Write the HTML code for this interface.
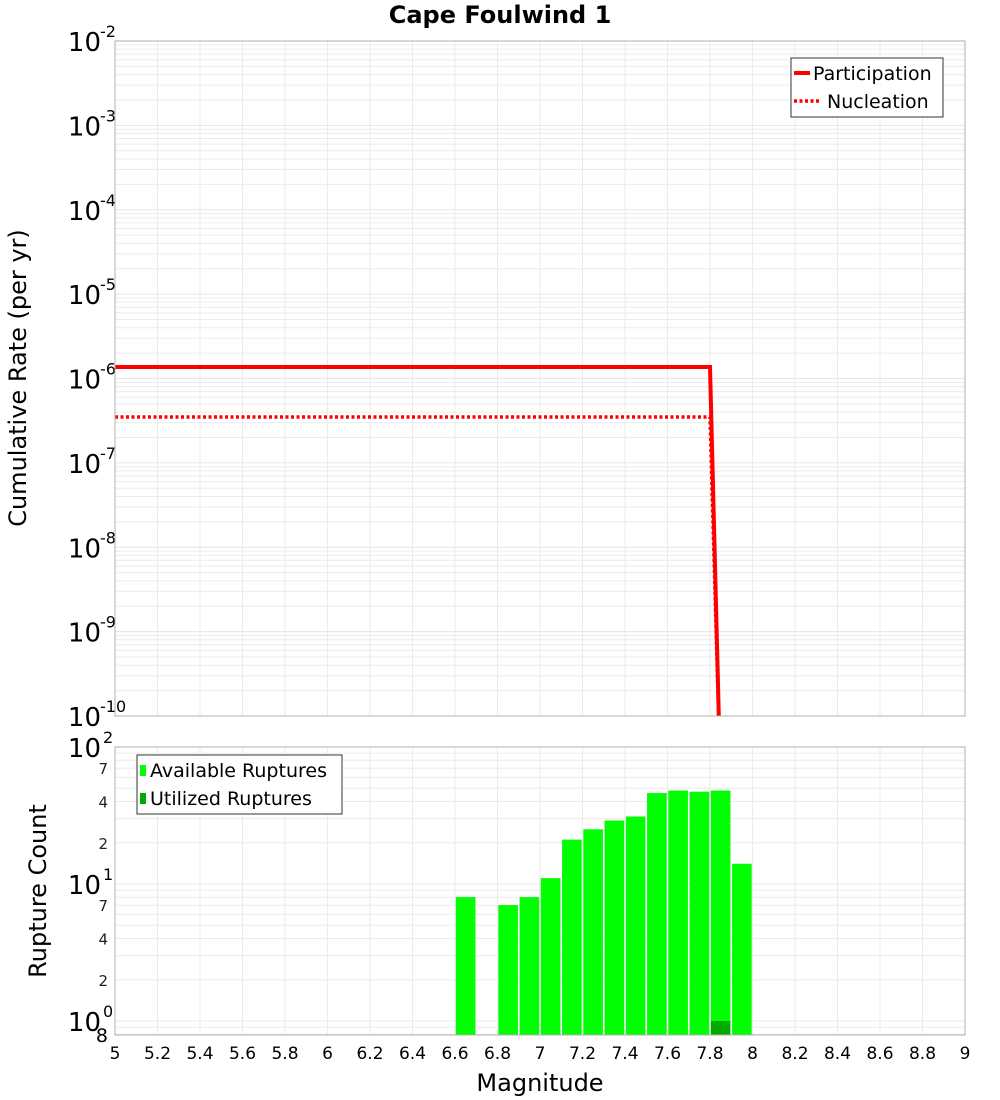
<!DOCTYPE html>
<html><head><meta charset="utf-8"><title>Cape Foulwind 1</title>
<style>
html,body{margin:0;padding:0;background:#fff;}
svg{display:block;font-family:"DejaVu Sans","Liberation Sans",sans-serif;}
</style></head>
<body>
<svg id="chart" width="1000" height="1100" viewBox="0 0 1000 1100" xmlns="http://www.w3.org/2000/svg">
<text x="500" y="23" text-anchor="middle" font-size="24" font-weight="bold">Cape Foulwind 1</text>
<g id="topPlot"></g>
<g id="botPlot"></g>
<text transform="translate(26,378) rotate(-90)" text-anchor="middle" font-size="24">Cumulative Rate (per yr)</text>
<text transform="translate(46,891) rotate(-90)" text-anchor="middle" font-size="24">Rupture Count</text>
<text x="540" y="1091" text-anchor="middle" font-size="24">Magnitude</text>
</svg>
<script>
// ---- data ----
const partMags = [5.0, 7.8, 7.85];
const partRates = [1.37e-6, 1.37e-6, 1.4e-11];
const nuclMags = [5.0, 7.8, 7.85];
const nuclRates = [3.5e-7, 3.5e-7, 1.4e-11];
const barMags = [6.65, 6.85, 6.95, 7.05, 7.15, 7.25, 7.35, 7.45, 7.55, 7.65, 7.75, 7.85, 7.95];
const availCounts = [8, 7, 8, 11, 21, 25, 29, 31, 46, 48, 47, 48, 14];
const utilMags = [7.85];
const utilCounts = [1];
const xTicks = [5,5.2,5.4,5.6,5.8,6,6.2,6.4,6.6,6.8,7,7.2,7.4,7.6,7.8,8,8.2,8.4,8.6,8.8,9];
const topExps = [-2,-3,-4,-5,-6,-7,-8,-9,-10];
const botMinorLabels = [2,4,7,20,40,70];

const NS = "http://www.w3.org/2000/svg";
const X0 = 115, X1 = 965;
const xS = m => X0 + (m - 5) / 4 * (X1 - X0);
const TY0 = 41, TY1 = 716;
const yT = v => TY0 + (-2 - Math.log10(v)) / 8 * (TY1 - TY0);
const BY0 = 747, BY1 = 1035, BD = 137;
const yB = v => BY0 + (2 - Math.log10(v)) * BD;

function mk(parent, tag, attrs, text) {
  const e = document.createElementNS(NS, tag);
  for (const k in attrs) e.setAttribute(k, attrs[k]);
  if (text !== undefined) e.textContent = text;
  parent.appendChild(e);
  return e;
}
const topG = document.getElementById('topPlot');
const botG = document.getElementById('botPlot');

// ---- top plot ----
mk(topG, 'rect', {x: X0, y: TY0, width: X1 - X0, height: TY1 - TY0, fill: '#fff'});
for (let d = -10; d < -2; d++) {
  for (let k = 2; k <= 9; k++) {
    const y = yT(k * Math.pow(10, d));
    mk(topG, 'line', {x1: X0, x2: X1, y1: y, y2: y, stroke: '#ebebeb', 'stroke-width': 1});
  }
}
xTicks.forEach(t => { const x = xS(t); mk(topG, 'line', {x1: x, x2: x, y1: TY0, y2: TY1, stroke: '#ebebeb', 'stroke-width': 1}); });
topExps.forEach(e => {
  const y = yT(Math.pow(10, e));
  mk(topG, 'line', {x1: X0, x2: X1, y1: y, y2: y, stroke: '#e6e6e6', 'stroke-width': 1});
  const g = mk(topG, 'g', {});
  
  
  mk(g, 'text', {x: 101, y: y + 10, 'text-anchor': 'end', 'font-size': 26}, '10');
  mk(g, 'text', {x: 100, y: y - 4, 'font-size': 16}, String(e));
});
const clipT = mk(topG, 'clipPath', {id: 'clipT'});
mk(clipT, 'rect', {x: X0, y: TY0, width: X1 - X0, height: TY1 - TY0});
const partLine = mk(topG, 'polyline', {points: partMags.map((m, i) => xS(m) + ',' + yT(partRates[i])).join(' '), fill: 'none', stroke: '#ff0000', 'stroke-width': 4, 'clip-path': 'url(#clipT)'});


const nuclLine = mk(topG, 'polyline', {points: nuclMags.map((m, i) => xS(m) + ',' + yT(nuclRates[i])).join(' '), fill: 'none', stroke: '#ff0000', 'stroke-width': 3.5, 'stroke-dasharray': '3,2.5', 'clip-path': 'url(#clipT)'});


mk(topG, 'rect', {x: X0, y: TY0, width: X1 - X0, height: TY1 - TY0, fill: 'none', stroke: '#b0b0b0', 'stroke-width': 1});
const lg = mk(topG, 'g', {});


mk(lg, 'rect', {x: 791, y: 58, width: 152, height: 59, fill: '#fff', stroke: '#333', 'stroke-width': 1});
mk(lg, 'line', {x1: 794, x2: 810, y1: 73, y2: 73, stroke: '#ff0000', 'stroke-width': 4});
mk(lg, 'text', {x: 813, y: 80, 'font-size': 19}, 'Participation');
mk(lg, 'line', {x1: 794, x2: 820, y1: 101, y2: 101, stroke: '#ff0000', 'stroke-width': 3.5, 'stroke-dasharray': '3,2.5'});
mk(lg, 'text', {x: 827, y: 108, 'font-size': 19}, 'Nucleation');

// ---- bottom plot ----
mk(botG, 'rect', {x: X0, y: BY0, width: X1 - X0, height: BY1 - BY0, fill: '#fff'});
for (let d = -1; d < 2; d++) {
  for (let k = 1; k <= 9; k++) {
    const v = k * Math.pow(10, d);
    const y = yB(v);
    if (y < BY0 || y > BY1) continue;
    mk(botG, 'line', {x1: X0, x2: X1, y1: y, y2: y, stroke: '#ebebeb', 'stroke-width': 1});
  }
}
xTicks.forEach(t => {
  const x = xS(t);
  mk(botG, 'line', {x1: x, x2: x, y1: BY0, y2: BY1, stroke: '#ebebeb', 'stroke-width': 1});
  const tl = mk(botG, 'text', {x: x, y: 1059, 'text-anchor': 'middle', 'font-size': 17}, String(t));
  
  
});
[2, 1, 0].forEach(e => {
  const y = yB(Math.pow(10, e));
  const g = mk(botG, 'g', {});
  
  
  mk(g, 'text', {x: 101, y: y + 10, 'text-anchor': 'end', 'font-size': 26}, '10');
  mk(g, 'text', {x: 103, y: y - 4, 'font-size': 16}, String(e));
});
botMinorLabels.forEach(v => {
  const t = mk(botG, 'text', {x: 108, y: yB(v) + 6, 'text-anchor': 'end', 'font-size': 15, fill: '#222'}, String(v % 10 === 0 ? v / 10 : v));
  
  
});
const l8 = mk(botG, 'text', {x: 108, y: 1042, 'text-anchor': 'end', 'font-size': 19}, '8');



const bw = 0.1;
barMags.forEach((m, i) => {
  const xa = xS(m - bw / 2) + 1, xb = xS(m + bw / 2) - 1;
  const y = yB(availCounts[i]);
  const r = mk(botG, 'rect', {x: xa, y: y, width: xb - xa, height: BY1 - y, fill: '#00ff00', stroke: '#33ee33', 'stroke-width': 0.5});
  
  
});
utilMags.forEach((m, i) => {
  const xa = xS(m - bw / 2) + 1, xb = xS(m + bw / 2) - 1;
  const y = yB(utilCounts[i]);
  const r = mk(botG, 'rect', {x: xa, y: y, width: xb - xa, height: BY1 - y, fill: '#00aa00'});
  
  
});
mk(botG, 'rect', {x: X0, y: BY0, width: X1 - X0, height: BY1 - BY0, fill: 'none', stroke: '#b0b0b0', 'stroke-width': 1});
const lg2 = mk(botG, 'g', {});


mk(lg2, 'rect', {x: 137, y: 755, width: 205, height: 59, fill: '#fff', stroke: '#333', 'stroke-width': 1});
mk(lg2, 'rect', {x: 140, y: 765, width: 6, height: 11, fill: '#00ff00'});
mk(lg2, 'text', {x: 150, y: 777, 'font-size': 19}, 'Available Ruptures');
mk(lg2, 'rect', {x: 140, y: 793, width: 6, height: 11, fill: '#00aa00'});
mk(lg2, 'text', {x: 150, y: 805, 'font-size': 19}, 'Utilized Ruptures');
</script>
</body></html>
